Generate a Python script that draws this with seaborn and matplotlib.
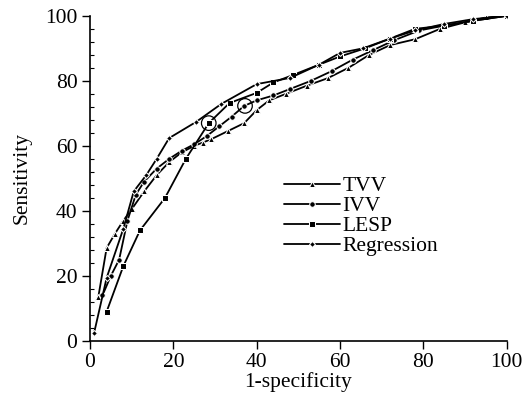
import numpy as np
import pandas as pd
import seaborn as sns
import matplotlib.pyplot as plt
from matplotlib.ticker import MultipleLocator

# ROC curves (1-specificity, sensitivity)
tvv_x = [2, 4, 6, 8, 10, 13, 16, 19, 22, 25, 27, 29, 33, 37, 40, 43, 47, 52, 57, 62, 67, 72, 78, 84, 90, 95, 100]
tvv_y = [13.5, 28.6, 33, 37, 40.5, 46, 51, 55, 58, 60, 61, 62, 64.5, 67, 71, 74, 76, 78.5, 80.8, 84, 88, 91, 92.8, 96, 98, 99.5, 100]

ivv_x = [3, 5, 7, 9, 11, 13, 16, 19, 22, 25, 28, 31, 34, 37, 40, 44, 48, 53, 58, 63, 68, 73, 79, 85, 92, 100]
ivv_y = [14, 20, 25, 37, 45, 49, 53, 56, 58.5, 60.5, 63, 66, 69, 72.3, 74, 75.5, 77.5, 80, 83, 86.5, 89.5, 92.5, 95.5, 97, 98.5, 100]

lesp_x = [4, 8, 12, 18, 23, 28.5, 33.5, 40, 44, 48.7, 55, 60, 66, 72, 78, 85, 92, 100]
lesp_y = [9, 23, 34, 44, 56, 67, 73.2, 76.3, 79.5, 81.8, 85, 87.5, 90, 93, 96, 97, 98.5, 100]

reg_x = [1, 4, 8, 10.5, 13.5, 16, 19, 25.5, 31.5, 40, 48, 55, 60, 65.5, 72, 78, 85, 92, 100]
reg_y = [2.5, 19.4, 34.5, 46, 51, 56, 62.4, 67.4, 72.9, 79, 80.9, 85, 88.6, 90, 93, 95.5, 97.5, 99, 100]

# highlighted cut-off points (open circles)
cut_x = [28.5, 37.2]
cut_y = [67, 72.3]

names = ['TVV', 'IVV', 'LESP', 'Regression']

frames = []
for name, xs, ys in zip(names, [tvv_x, ivv_x, lesp_x, reg_x], [tvv_y, ivv_y, lesp_y, reg_y]):
    frames.append(pd.DataFrame({'x': xs, 'y': ys, 'test': name}))
df = pd.concat(frames, ignore_index=True)

sns.set_style('ticks')
plt.rcParams['font.family'] = ['Liberation Serif', 'DejaVu Serif']
plt.rcParams['text.color'] = 'black'
plt.rcParams['axes.labelcolor'] = 'black'
fs = 15.5

fig = plt.figure(figsize=(5.23, 3.96), dpi=100)
ax = fig.add_axes([0.172, 0.139, 0.797, 0.821])

sns.lineplot(data=df, x='x', y='y', hue='test', style='test', hue_order=names,
             style_order=names, palette=['black'] * 4, dashes=False,
             markers={'TVV': '^', 'IVV': 'o', 'LESP': 's', 'Regression': 'D'},
             markersize=4, linewidth=1.3, sort=False, ax=ax, estimator=None)
for line in ax.lines:
    if line.get_marker() == 'D':
        line.set_markersize(3)

ax.scatter(cut_x, cut_y, s=110, facecolors='none', edgecolors='black', linewidths=0.9, zorder=5)

ax.set_xlim(0, 100)
ax.set_ylim(0, 100)
ax.set_xticks(range(0, 101, 20))
ax.set_yticks(range(0, 101, 20))
ax.yaxis.set_minor_locator(MultipleLocator(4))
ax.tick_params(axis='both', which='major', direction='out', length=6, width=1,
               labelsize=fs, colors='black', labelcolor='black', pad=3)
ax.tick_params(axis='y', which='minor', direction='in', length=3, width=0.8, colors='black')
sns.despine(ax=ax)
for s in ['left', 'bottom']:
    ax.spines[s].set_linewidth(1.2)
    ax.spines[s].set_color('black')

ax.set_xlabel('1-specificity', fontsize=fs, labelpad=0, color='black')
ax.set_ylabel('Sensitivity', fontsize=fs, labelpad=10, color='black')

leg = ax.legend(loc='upper left', bbox_to_anchor=(0.44, 0.54), frameon=False, fontsize=fs,
                handlelength=2.6, handletextpad=0.1, labelspacing=0.0, borderpad=0)
for h in leg.legend_handles:
    h.set_color('black')
for t in leg.get_texts():
    t.set_color('black')

fig.savefig('out.png', dpi=100)
